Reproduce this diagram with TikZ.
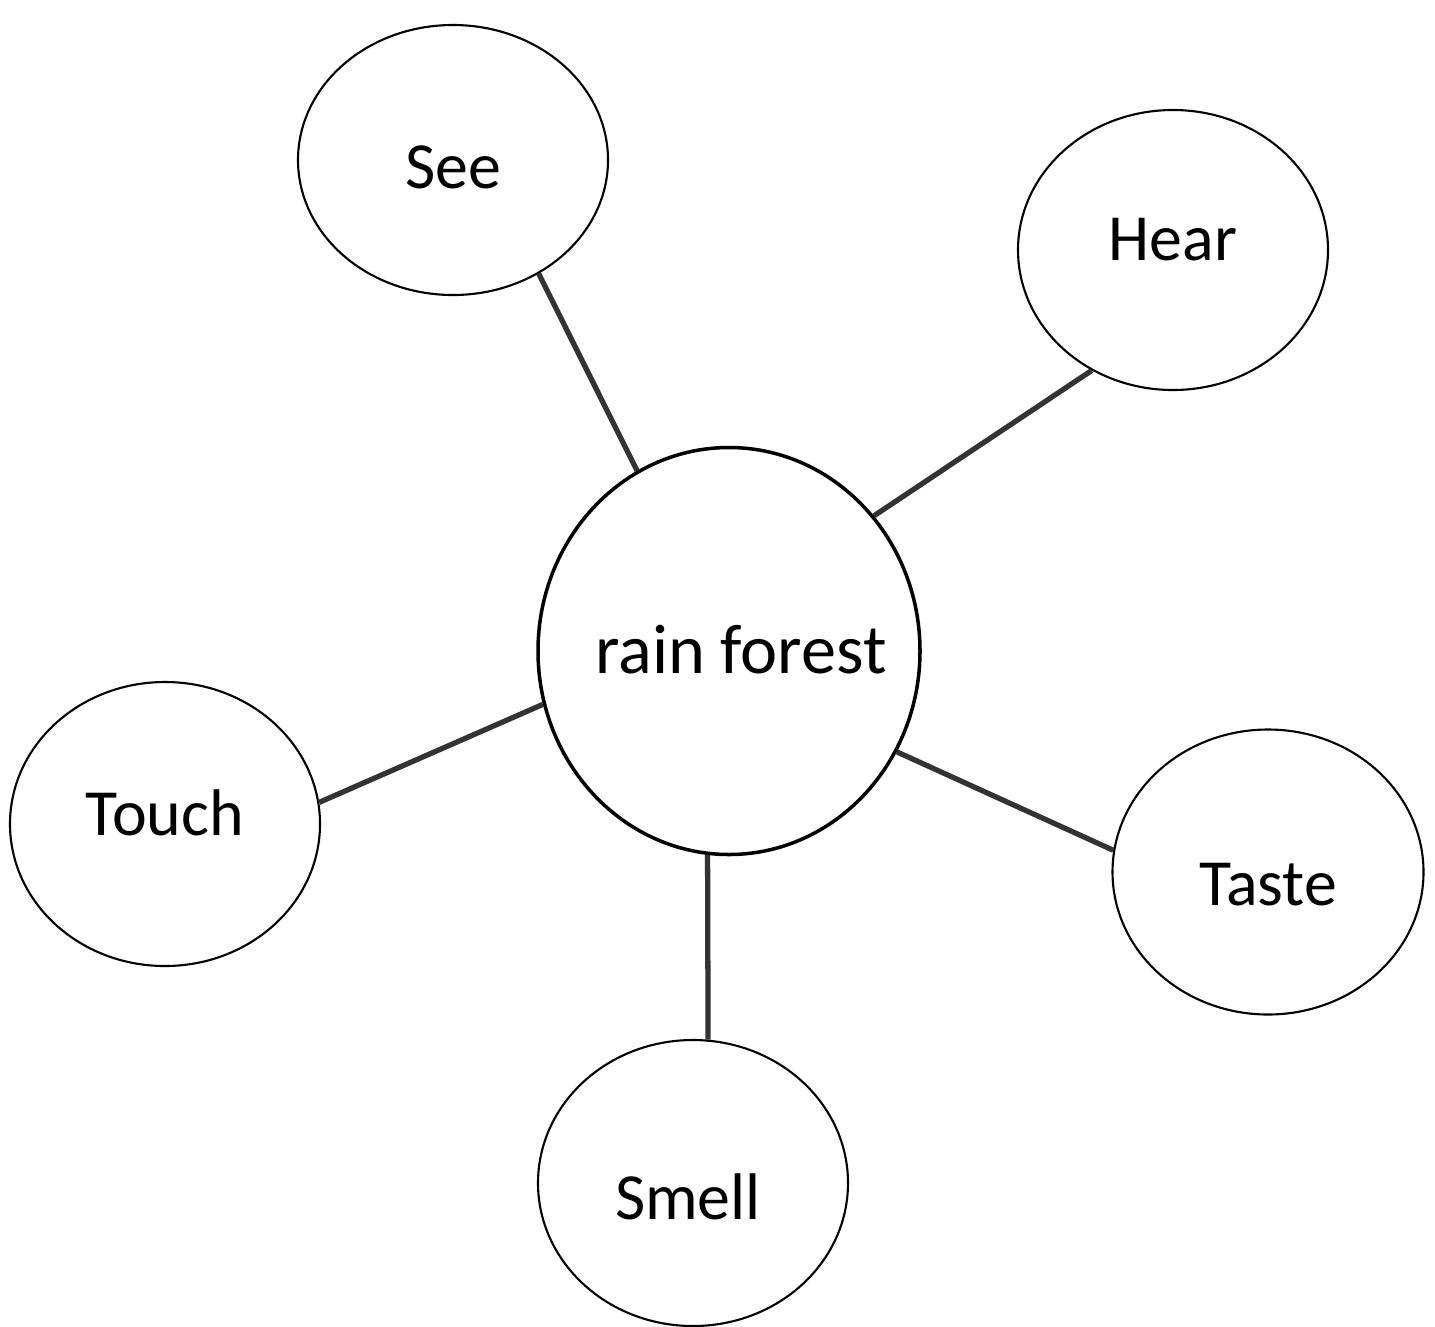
\documentclass[tikz,border=0pt]{standalone}
\usepackage{fontspec}
\setmainfont{Carlito}
\usetikzlibrary{shapes.geometric}
\begin{document}
\begin{tikzpicture}[x=0.02cm,y=-0.02cm,
  bubble/.style={draw=black, line width=1.2pt, ellipse, inner sep=0pt},
  hub/.style={draw=black, line width=2pt, ellipse, inner sep=0pt},
  word/.style={font=\fontsize{37.5}{45}\selectfont, inner sep=0pt},
  hubword/.style={font=\fontsize{40}{48}\selectfont, inner sep=0pt},
  spoke/.style={draw=black!80, line width=3pt}]
\useasboundingbox (0,0) rectangle (1435,1326);
% outer bubbles
\node[bubble, minimum width=310*0.02cm, minimum height=270*0.02cm] (see) at (453,160) {};
\node[bubble, minimum width=310*0.02cm, minimum height=280*0.02cm] (hear) at (1173,250) {};
\node[bubble, minimum width=310*0.02cm, minimum height=284*0.02cm] (touch) at (165,824) {};
\node[bubble, minimum width=311*0.02cm, minimum height=285*0.02cm] (taste) at (1268,872) {};
\node[bubble, minimum width=310*0.02cm, minimum height=286*0.02cm] (smell) at (693,1183) {};
% central bubble
\node[hub, minimum width=382*0.02cm, minimum height=407*0.02cm] (hubnode) at (729,651) {};
% labels
\node[word] (seetxt) at (453,167) {See};
\node[word] (heartxt) at (1173,240) {Hear};
\node[hubword] (hubtxt) at (741,650) {rain forest};
\node[word] (touchtxt) at (165,813) {Touch};
\node[word] (tastetxt) at (1268,885) {Taste};
\node[word] (smelltxt) at (688,1197) {Smell};
% spokes
\draw[spoke] (see.-53.5) -- (hubnode.117);
\draw[spoke] (hear.-124) -- (hubnode.43.4);
\draw[spoke] (touch.8.5) -- (hubnode.-164);
\draw[spoke] (taste.172) -- (hubnode.-31.3);
\draw[spoke] (smell.84.4) -- (hubnode.-96.3);
\end{tikzpicture}
\end{document}
